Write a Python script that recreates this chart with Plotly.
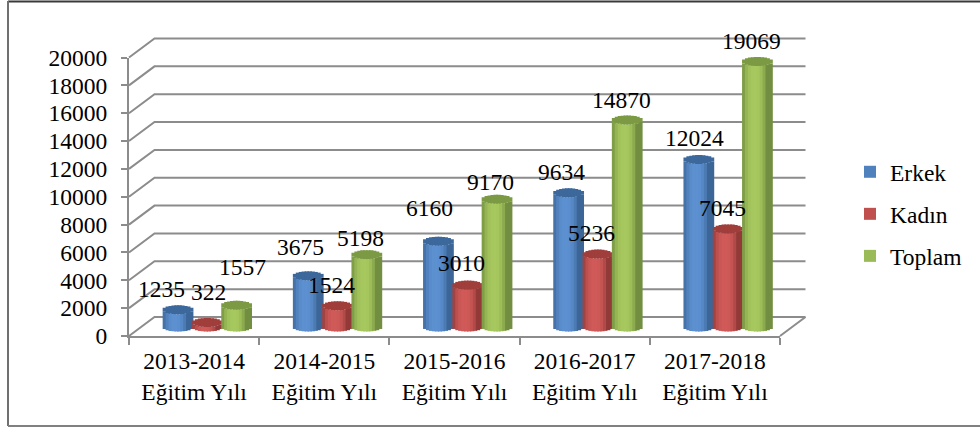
import math
import plotly.graph_objects as go

categories = ["2013-2014", "2014-2015", "2015-2016", "2016-2017", "2017-2018"]
erkek = [1235, 3675, 6160, 9634, 12024]
kadin = [322, 1524, 3010, 5236, 7045]
toplam = [1557, 5198, 9170, 14870, 19069]
series_names = ["Erkek", "Kadın", "Toplam"]
y_ticks = list(range(0, 20001, 2000))

# label nudges in pixels from the top of each cylinder
label_dx = [[-16, -7, -8, -6, -4], [1.5, -5, -6, -6, -5], [7, -6, -6, -5, -5]]
label_dy = [[-21, -29, -33, -21, -22], [-30.5, -21, -22, -21, -21], [-38, -17, -17, -20, -20]]

W, H = 980, 428
FONT = "Liberation Serif"
FS = 23.5
GRID = "#8c8c8c"
PX = 278.5 / 20000  # pixels per unit of value


def dom_x(a, b):
    return [a / W, b / W]


def dom_y(top, bottom):
    return [1 - bottom / H, 1 - top / H]


FRONT_L, FRONT_R, FRONT_B, FRONT_T = 129, 780, 336, 57.5
DX_BACK, DY_BACK = 25.5, 19
DX_BAR, DY_BAR = 12.5, 9
CAT_PX = (FRONT_R - FRONT_L) / 5
bar_w = 0.225
cap_b = 4.5 / PX
pad = 1000  # extra value range so that the cylinder bases are not clipped

styles = [
    dict(light=(92, 144, 208), dark=(60, 102, 152), cap=(60, 104, 156)),
    dict(light=(208, 90, 88), dark=(146, 58, 56), cap=(160, 62, 60)),
    dict(light=(166, 200, 94), dark=(114, 142, 64), cap=(124, 154, 68)),
]
legend_colors = ["#4F81BD", "#C0504D", "#9BBB59"]


def rgb(c):
    return "rgb(%d,%d,%d)" % tuple(round(v) for v in c)


def mix(a, b, t):
    return tuple(p + (q - p) * t for p, q in zip(a, b))


fig = go.Figure()

# back wall and floor lines, drawn first so that the cylinders cover them
dx_val = DX_BACK / CAT_PX
dy_val = DY_BACK / PX
lx, ly = [], []
for v in y_ticks:
    lx += [-0.5 - dx_val, -0.5, 4.5, None]
    ly += [v - dy_val, v, v, None]
lx += [4.5 - dx_val, 4.5]
ly += [-dy_val, 0]
fig.add_trace(go.Scatter(
    x=lx, y=ly, mode="lines", line=dict(color=GRID, width=2),
    xaxis="x2", yaxis="y2", showlegend=False, hoverinfo="skip",
))

N = 10
for s, values in enumerate([erkek, kadin, toplam]):
    st = styles[s]
    xs, ys, bases, offs, cols = [], [], [], [], []
    step = bar_w / N
    for i, v in enumerate(values):
        for k in range(N):
            u = (k + 0.5) / N * 2 - 1
            half = cap_b * math.sqrt(max(1 - u * u, 0))
            t = min(abs(u + 0.15) / 0.85, 1) ** 2.6
            xs.append(i)
            ys.append(v)
            bases.append(-half)
            offs.append((s - 1) * bar_w - bar_w / 2 + k * step)
            cols.append(rgb(mix(st["light"], st["dark"], t)))
    for i, v in enumerate(values):
        for k in range(N):
            u = (k + 0.5) / N * 2 - 1
            half = cap_b * math.sqrt(max(1 - u * u, 0))
            xs.append(i)
            ys.append(2 * half)
            bases.append(v - half)
            offs.append((s - 1) * bar_w - bar_w / 2 + k * step)
            cols.append(rgb(st["cap"]))
    fig.add_trace(go.Bar(
        x=xs, y=ys, base=bases, offset=offs, width=[step * 1.5] * len(xs),
        marker=dict(color=cols, line=dict(width=0)),
        xaxis="x3", yaxis="y3", showlegend=False, hoverinfo="skip",
    ))

# legend entries, which also make the front axes draw
for name, col in zip(series_names, legend_colors):
    fig.add_trace(go.Scatter(
        x=[categories[0]], y=[None], mode="markers", name=name, legendgroup=name,
        marker=dict(symbol="square", size=12, color=col),
        xaxis="x", yaxis="y",
    ))

annotations = []
for s, values in enumerate([erkek, kadin, toplam]):
    for i, v in enumerate(values):
        annotations.append(dict(
            x=i + (s - 1) * bar_w, y=v, xref="x3", yref="y3", text=str(v), showarrow=False,
            xanchor="center", yanchor="middle",
            xshift=label_dx[s][i], yshift=-label_dy[s][i],
            font=dict(family=FONT, size=FS, color="black"),
        ))

frame = [
    dict(type="line", xref="paper", yref="paper", x0=8 / W, x1=1, y0=1 - 1.5 / H, y1=1 - 1.5 / H,
         line=dict(color="#3a3a3a", width=2)),
    dict(type="line", xref="paper", yref="paper", x0=8 / W, x1=8 / W, y0=1 - 1 / H, y1=1 - 426 / H,
         line=dict(color="#707070", width=2)),
    dict(type="line", xref="paper", yref="paper", x0=8 / W, x1=1, y0=1 - 426 / H, y1=1 - 426 / H,
         line=dict(color="#808080", width=2)),
]

edge = 2  # pixels of slack so the outermost lines are not clipped
fig.update_layout(
    width=W, height=H, margin=dict(l=0, r=0, t=0, b=0),
    paper_bgcolor="white", plot_bgcolor="rgba(0,0,0,0)",
    barmode="overlay", annotations=annotations, shapes=frame,
    font=dict(family=FONT, size=FS, color="black"),
    legend=dict(x=850 / W, y=1 - 150 / H, xanchor="left", yanchor="top",
                tracegroupgap=8.5, traceorder="grouped", bgcolor="rgba(0,0,0,0)",
                font=dict(family=FONT, size=FS, color="black")),
    xaxis=dict(
        type="category", categoryorder="array", categoryarray=categories,
        tickmode="array", tickvals=categories,
        ticktext=[c + "<br>Eğitim Yılı" for c in categories],
        range=[-0.5, 4.5], domain=dom_x(FRONT_L, FRONT_R), anchor="y", automargin=False,
        tickson="boundaries", ticks="outside", ticklen=7, tickwidth=2, tickcolor=GRID,
        showline=True, linecolor=GRID, linewidth=2, showgrid=False, zeroline=False,
        ticklabelstandoff=3,
        tickangle=0, tickfont=dict(family=FONT, size=FS, color="black"),
    ),
    yaxis=dict(
        range=[0, 20000], domain=dom_y(FRONT_T, FRONT_B), anchor="x", automargin=False,
        tickmode="array", tickvals=y_ticks, tickformat="d", ticks="outside", ticklen=6, tickwidth=2,
        tickcolor=GRID, showline=True, linecolor=GRID, linewidth=2, showgrid=False, zeroline=False,
        ticklabelstandoff=9, tickfont=dict(family=FONT, size=FS, color="black"),
    ),
    xaxis2=dict(
        range=[-0.5 - dx_val - edge / CAT_PX, 4.5 + edge / CAT_PX], automargin=False,
        domain=dom_x(FRONT_L - edge, FRONT_R + DX_BACK + edge), anchor="y2",
        visible=False,
    ),
    yaxis2=dict(
        range=[-dy_val - edge / PX, 20000 + edge / PX], automargin=False,
        domain=dom_y(FRONT_T - DY_BACK - edge, FRONT_B + edge), anchor="x2",
        visible=False,
    ),
    xaxis3=dict(
        range=[-0.5, 4.5], domain=dom_x(FRONT_L + DX_BAR, FRONT_R + DX_BAR), anchor="y3",
        automargin=False, visible=False,
    ),
    yaxis3=dict(
        range=[-pad, 20000 + pad], automargin=False,
        domain=dom_y(FRONT_T - DY_BAR - pad * PX, FRONT_B - DY_BAR + pad * PX), anchor="x3",
        visible=False,
    ),
)

fig.write_html(
    "out.html",
    config={"displayModeBar": False},
    post_script="document.body.style.margin='0';document.body.style.overflow='hidden';",
)
